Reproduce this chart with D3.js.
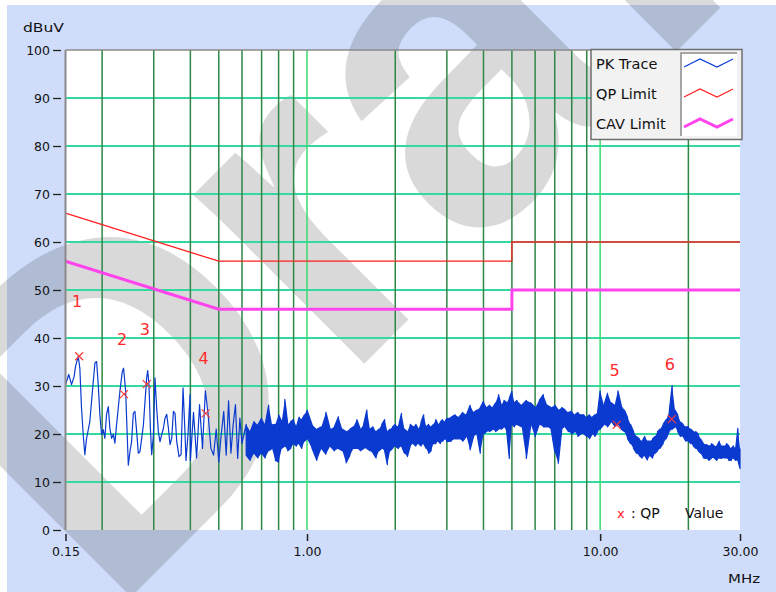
<!DOCTYPE html>
<html><head><meta charset="utf-8">
<script src="https://cdn.jsdelivr.net/npm/d3@7"></script>
<style>
html,body{margin:0;padding:0;background:#fff;}
svg{display:block;}
</style></head><body>
<svg id="chart" width="776" height="592"></svg>
<script>
// ---------- data ----------
const yTicks = [0,10,20,30,40,50,60,70,80,90,100];
const xTickValues = [0.15, 1, 10, 30];
const gridMinorFreq = [0.2,0.3,0.4,0.5,0.6,0.7,0.8,0.9,2,3,4,5,6,7,8,9,20];
const gridMajorFreq = [1,10];

const qpLimitFreq  = [0.15, 0.5, 5, 5, 30];
const qpLimitLevel = [66, 56, 56, 60, 60];
const cavLimitFreq  = [0.15, 0.5, 5, 5, 30];
const cavLimitLevel = [56, 46, 46, 50, 50];

// PK trace, low band (single sweep values)
const lfFreq = [0.150,0.1539,0.1573,0.1606,0.1623,0.1658,0.1679,0.1701,0.1724,0.1746,0.1770,0.1816,0.1866,0.1890,0.1915,0.1940,0.1965,0.1991,0.2018,0.2044,0.2071,0.2099,0.2126,0.2155,0.2184,0.2211,0.2241,0.2300,0.2343,0.2367,0.2406,0.2431,0.2457,0.2488,0.2521,0.2555,0.2588,0.2623,0.2658,0.2692,0.2729,0.2766,0.2801,0.2838,0.2861,0.2890,0.2922,0.2952,0.2992,0.3029,0.3070,0.3111,0.3152,0.3194,0.3237,0.3278,0.3322,0.3367,0.3409,0.3455,0.3502,0.3546,0.3594,0.3659,0.3718,0.3777,0.3837,0.3865,0.3927,0.3991,
  0.40,0.41,0.42,0.43,0.44,0.45,0.46,0.47,0.48,0.49,0.50,0.51,0.52,0.53,0.54,0.55,0.56,0.57,0.58,0.59,0.60];
const lfLevel = [30.3,32.4,30.3,32.0,34.1,36.2,33.7,25.4,19.9,15.7,19.1,22.6,31.0,34.8,35.1,30.3,24.0,19.9,20.9,19.1,24.1,25.7,21.2,19.1,19.9,18.1,22.0,28.9,33.0,33.7,28.9,21.2,13.5,16.3,18.4,24.3,24.7,20.5,16.0,16.3,19.1,21.9,26.8,31.7,33.2,30.3,21.2,15.7,19.8,31.7,25.4,20.5,18.4,19.9,21.2,23.3,24.1,21.2,17.8,19.1,24.7,24.3,18.4,15.3,15.7,29.6,19.9,14.5,20.0,28.2,
  14.5,24.5,15.0,26.1,17.0,29.0,24.0,17.0,15.6,21.0,14.2,20.0,24.7,15.6,26.9,16.0,22.0,26.1,14.9,23.3,18.0];

// PK trace, upper band (max / min per sweep point)
const hfFreq = [0.62,0.64,0.66,0.68,0.70,0.72,0.74,0.76,0.78,0.80,0.82,0.84,0.86,0.88,0.90,0.92,0.94,0.96,0.98,1.00,
  1.04,1.08,1.12,1.16,1.20,1.24,1.28,1.32,1.36,1.40,1.44,1.48,1.52,1.56,1.60,1.64,1.68,1.72,1.76,1.80,1.84,1.88,1.92,1.96,2.00,
  2.05,2.10,2.15,2.20,2.25,2.30,2.35,2.40,2.45,2.50,2.55,2.60,2.65,2.70,2.75,2.80,2.85,2.90,2.95,3.00,
  3.1,3.2,3.3,3.4,3.5,3.6,3.7,3.8,3.9,4.0,4.1,4.2,4.3,4.4,4.5,4.6,4.7,4.8,4.9,5.0,
  5.1,5.2,5.4,5.6,5.8,6.0,6.2,6.4,6.6,6.8,7.0,7.2,7.4,7.6,7.8,8.0,8.2,8.4,8.6,8.8,9.0,9.2,9.4,9.6,9.8,10.0,
  10.3,10.6,10.9,11.2,11.5,11.8,12.1,12.4,12.7,13.0,13.3,13.6,13.9,14.2,14.5,14.8,15.1,15.4,15.7,16.0,
  16.4,16.8,17.2,17.6,18.0,18.4,18.8,19.2,19.6,20.0,20.4,20.8,21.2,21.6,22.0,
  22.5,23.0,23.5,24.0,24.5,25.0,25.5,26.0,26.5,27.0,27.5,28.0,28.5,29.0,29.5,30.0];
const hfMax = [22.0,20.5,22.6,21.9,23.3,22.0,26.0,21.9,22.0,24.0,22.6,27.2,22.0,22.6,23.0,21.5,23.5,23.0,24.0,25.0,
  22.0,21.0,21.5,24.5,21.0,21.5,23.6,21.0,20.5,21.0,21.5,23.0,21.0,22.0,25.0,21.0,21.5,20.5,21.0,22.0,23.0,20.5,21.0,21.5,22.0,
  21.5,24.3,21.0,20.5,22.0,21.5,22.0,21.0,22.5,24.0,21.5,22.0,21.5,22.0,23.0,22.0,22.5,23.0,22.5,23.3,
  23.5,24.0,23.5,24.5,24.0,26.0,24.5,25.0,25.5,26.8,25.5,26.0,25.5,26.5,28.2,26.0,27.0,26.5,27.5,28.9,
  26.5,27.0,26.0,27.0,26.5,25.5,27.0,28.2,26.0,25.5,26.0,25.0,25.5,25.0,24.5,24.7,24.0,24.5,24.0,24.0,23.5,24.0,23.5,24.0,24.5,29.0,
  26.0,28.5,26.5,26.0,29.0,26.0,25.0,23.5,22.0,20.5,19.5,19.0,18.5,19.5,18.5,18.5,19.0,19.5,20.5,21.0,
  22.0,23.0,24.5,30.1,25.0,24.0,22.5,22.0,21.5,21.5,21.0,20.5,20.5,20.0,19.0,
  18.0,17.8,17.5,18.0,17.5,17.5,18.5,17.5,17.5,18.0,17.5,17.0,17.5,17.0,21.2,17.0];
const hfMin = [15.6,14.5,16.0,15.0,16.0,15.0,16.5,17.0,14.5,14.2,17.0,17.5,16.5,17.0,18.0,17.5,18.0,17.0,18.5,19.0,
  17.0,14.5,17.0,15.8,17.5,16.5,17.0,16.5,14.0,15.5,17.0,17.0,16.5,17.0,17.0,16.5,16.0,15.0,16.5,17.0,16.5,13.6,16.5,17.0,17.5,
  17.0,17.5,16.0,15.3,17.5,18.0,17.5,18.0,17.5,18.0,17.0,16.0,16.5,18.0,18.0,18.5,18.0,18.5,19.0,18.4,
  18.5,19.0,19.0,18.5,19.5,16.7,19.5,20.0,16.0,20.0,20.5,20.5,21.0,20.5,21.0,21.0,21.5,20.5,14.9,22.0,
  21.5,22.0,21.5,14.9,22.0,19.5,22.0,21.5,21.5,21.0,16.3,13.9,21.0,21.5,20.5,20.0,20.5,19.5,20.0,20.0,19.5,19.0,20.0,19.5,20.5,21.0,
  22.0,21.5,22.5,21.5,22.0,21.0,20.5,19.0,18.0,17.0,16.0,15.5,15.0,15.5,14.6,15.5,15.0,16.0,16.5,17.0,
  18.0,19.0,20.5,21.0,21.5,20.5,19.5,19.5,18.5,18.5,18.0,17.5,17.0,16.5,16.0,
  15.0,14.9,14.5,15.0,15.0,14.5,15.0,14.9,15.0,15.0,14.5,14.5,15.0,14.5,14.5,12.8];

// QP values at the marked peaks
const qpFreq  = [0.167, 0.2375, 0.284, 0.451, 11.39, 17.55];
const qpLevel = [36.2, 28.3, 30.4, 24.3, 21.9, 23.1];
const qpLabel = ["1","2","3","4","5","6"];

const legendNames = ["PK Trace","QP Limit","CAV Limit"];
const legendColors = ["#0b3fd6","#ff2020","#ff44ee"];
const legendWidths = [1.2,1.2,3];

// ---------- drawing ----------
const FONT = "'DejaVu Sans', Verdana, sans-serif";
const TRACE = "#0a3acf";
const svg = d3.select("#chart");
const x = d3.scaleLog().domain([0.15, 30]).range([65.5, 740]);
const y = d3.scaleLinear().domain([0, 100]).range([530, 50]);

svg.append("rect").attr("x",0).attr("y",0).attr("width",776).attr("height",592).attr("fill","#ffffff");
svg.append("rect").attr("x",7).attr("y",5).attr("width",769).attr("height",587).attr("fill","#cfdcfa");
svg.append("rect").attr("x",x(0.15)).attr("y",y(100)).attr("width",x(30)-x(0.15)).attr("height",y(0)-y(100)).attr("fill","#ffffff");

// watermark
svg.append("text").text("Draft")
  .attr("transform","translate(109.5,618.5) rotate(-45)")
  .attr("font-family","'Liberation Sans', Arial, sans-serif")
  .attr("font-weight","bold").attr("font-size",455)
  .attr("fill","#000").attr("fill-opacity",0.15);

// grid
const grid = svg.append("g");
grid.selectAll("line.h").data(yTicks.filter(d=>d>0 && d<100)).join("line")
  .attr("x1",x(0.15)).attr("x2",x(30)).attr("y1",d=>y(d)).attr("y2",d=>y(d))
  .attr("stroke","#34d9a0").attr("stroke-width",1.8);
grid.selectAll("line.vm").data(gridMinorFreq).join("line").attr("class","vm")
  .attr("x1",d=>x(d)).attr("x2",d=>x(d)).attr("y1",y(100)).attr("y2",y(0))
  .attr("stroke","#2e8746").attr("stroke-width",1.5);
grid.selectAll("line.vM").data(gridMajorFreq).join("line").attr("class","vM")
  .attr("x1",d=>x(d)).attr("x2",d=>x(d)).attr("y1",y(100)).attr("y2",y(0))
  .attr("stroke","#3cdc6e").attr("stroke-width",1.5);

// limits
const line = d3.line().x(d=>x(d[0])).y(d=>y(d[1]));
svg.append("path").attr("d", line(qpLimitFreq.map((f,i)=>[f,qpLimitLevel[i]])))
  .attr("fill","none").attr("stroke","#ff2020").attr("stroke-width",1.3);
svg.append("path").attr("d", line(cavLimitFreq.map((f,i)=>[f,cavLimitLevel[i]])))
  .attr("fill","none").attr("stroke","#ff44ee").attr("stroke-width",3);

// PK trace: dense band as filled envelope + sweep line
const area = d3.area().x(d=>x(d[0])).y0(d=>y(d[2])).y1(d=>y(d[1]));
svg.append("path").attr("d", area(hfFreq.map((f,i)=>[f,hfMax[i],hfMin[i]])))
  .attr("fill",TRACE).attr("stroke","none");
const pts = lfFreq.map((f,i)=>[f, lfLevel[i]]);
hfFreq.forEach((f,i)=>{
  if (i % 2 === 0) { pts.push([f,hfMax[i]],[f,hfMin[i]]); }
  else { pts.push([f,hfMin[i]],[f,hfMax[i]]); }
});
svg.append("path").attr("d", line(pts)).attr("fill","none")
  .attr("stroke",TRACE).attr("stroke-width",1.2).attr("stroke-linejoin","round");

// QP markers
const mk = svg.append("g");
qpFreq.forEach((f,i)=>{
  const cx = x(f), cy = y(qpLevel[i]);
  mk.append("path").attr("d",`M${cx-4},${cy-4}L${cx+4},${cy+4}M${cx-4},${cy+4}L${cx+4},${cy-4}`)
    .attr("stroke","#ff3b3b").attr("stroke-width",1.2);
  mk.append("text").text(qpLabel[i]).attr("x",cx-2).attr("y",cy-49)
    .attr("text-anchor","middle").attr("font-family",FONT).attr("font-size",16).attr("fill","#ff2a2a");
});

// border lines (left & top)
svg.append("line").attr("x1",x(0.15)).attr("x2",x(0.15)).attr("y1",y(100)).attr("y2",y(0))
  .attr("stroke","#8a8a8a").attr("stroke-width",2);
svg.append("line").attr("x1",x(0.15)).attr("x2",x(30)).attr("y1",y(100)).attr("y2",y(100))
  .attr("stroke","#8a8a8a").attr("stroke-width",1.5);

// axes
const yAxis = svg.append("g").attr("transform","translate(61,0)")
  .call(d3.axisLeft(y).tickValues(yTicks).tickSize(8).tickPadding(3).tickFormat(d3.format("d")));
yAxis.select(".domain").remove();
yAxis.attr("font-family",FONT).attr("font-size",12.5);
yAxis.selectAll("line").attr("stroke","#222").attr("stroke-width",1.3);
yAxis.selectAll("text").attr("fill","#111");

const xAxis = svg.append("g").attr("transform","translate(0,534)")
  .call(d3.axisBottom(x).tickValues(xTickValues).tickSize(7).tickPadding(6).tickFormat(d3.format(".2f")));
xAxis.select(".domain").remove();
xAxis.attr("font-family",FONT).attr("font-size",12.5);
xAxis.selectAll("line").attr("stroke","#222").attr("stroke-width",1.5);
xAxis.selectAll("text").attr("fill","#111");

svg.append("text").text("dBuV").attr("x",23).attr("y",32).attr("font-family",FONT)
  .attr("font-size",12.5).attr("fill","#111").attr("textLength",41).attr("lengthAdjust","spacingAndGlyphs");
svg.append("text").text("MHz").attr("x",728).attr("y",583).attr("font-family",FONT)
  .attr("font-size",12.5).attr("fill","#111").attr("textLength",32).attr("lengthAdjust","spacingAndGlyphs");

// note
svg.append("text").text("x").attr("x",617).attr("y",518).attr("font-family",FONT).attr("font-size",13).attr("fill","#ff2020");
svg.append("text").text(": QP").attr("x",631).attr("y",518).attr("font-family",FONT).attr("font-size",14).attr("fill","#111");
svg.append("text").text("Value").attr("x",685).attr("y",518).attr("font-family",FONT).attr("font-size",14).attr("fill","#111");

// legend
const lg = svg.append("g");
lg.append("rect").attr("x",591).attr("y",49.5).attr("width",151).attr("height",90)
  .attr("fill","#f2f2f2").attr("stroke","#6e6e6e").attr("stroke-width",1.5);
lg.append("rect").attr("x",681).attr("y",53).attr("width",56).attr("height",83).attr("fill","#ffffff");
lg.append("path").attr("d","M681,136V53H737").attr("fill","none").attr("stroke","#8a8a8a").attr("stroke-width",1.5);
legendNames.forEach((n,i)=>{
  const cy = 63 + i*30;
  lg.append("text").text(n).attr("x",596).attr("y",cy+5.5).attr("font-family",FONT)
    .attr("font-size",14.5).attr("fill","#111");
  lg.append("path").attr("d",`M684,${cy+4}L700,${cy-4}L717,${cy+4}L733,${cy-4}`)
    .attr("fill","none").attr("stroke",legendColors[i]).attr("stroke-width",legendWidths[i]);
});
</script></body></html>
